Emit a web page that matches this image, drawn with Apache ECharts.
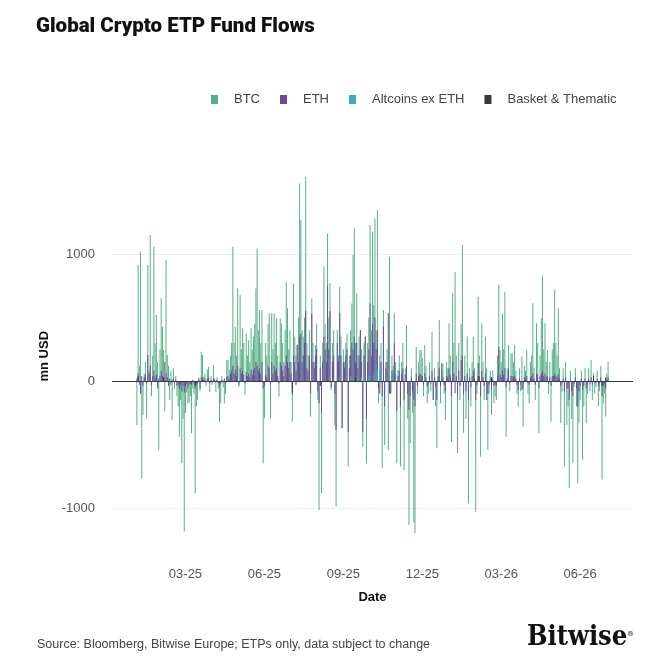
<!DOCTYPE html>
<html>
<head>
<meta charset="utf-8">
<script src="https://cdn.jsdelivr.net/npm/echarts@6/dist/echarts.min.js"></script>
<style>html,body{margin:0;padding:0;background:#fff}#c{width:671px;height:671px}</style>
</head>
<body>
<div id="c"></div>
<script>
// ---- data (daily flows, mn USD; one row per trading week, Mon..Fri) ----
const firstTradingDay = '2025-01-06';
const seriesNames = ['BTC', 'ETH', 'Altcoins ex ETH', 'Basket & Thematic'];
const quarterMonths = [3, 6, 9, 12];
const yTickLabels = [-1000, 0, 1000];

const btcWeeks = [
  [-346, 913, 120, 1018, -766], [-268, 60, 150, -294, 913], [80, 1149, -120, 200, 1057],
  [297, 519, 150, -543, 250], [651, 428, 244, -241, 952], [205, 120, -150, 80, -307],
  [100, -60, 40, -120, -200], [-438, -150, -648, -300, -1186], [-250, -90, -176, -176, -120],
  [-412, -60, -100, -884, -202], [-150, 30, -80, 231, 205], [34, 60, -40, 90, 113],
  [-84, 40, -30, 126, 20], [-84, 30, -60, -320, -176], [40, -50, -176, -100, 165],
  [165, 90, 200, 300, 1057], [300, 428, 200, 729, -45], [677, 250, 415, 300, -110],
  [375, 200, 320, 150, 415], [250, 350, 450, 729, 1044], [400, 559, 300, 559, -648],
  [-294, 300, 200, 450, 533], [-294, 533, 250, 533, 300], [493, 200, -123, 493, 454],
  [300, 150, 400, 782, 572], [250, 400, 150, -320, 769], [350, 200, 283, 500, 1556],
  [1267, 400, 350, 500, 1608], [297, 200, 400, -281, 651], [300, 150, 283, 450, -150],
  [-1015, 200, -884, 300, 900], [450, 300, 1162, 500, 769], [-71, 300, 400, -350, -989],
  [401, 200, 742, 350, -372], [250, 150, 300, 375, -674], [200, 400, 611, 992, 1202],
  [300, 690, 200, 350, 401], [250, -517, 300, 349, -648], [300, 500, 1228, 400, 1175],
  [600, 1280, 400, 1346, -176], [200, 300, -686, 559, -504], [150, 250, -543, 978, -97],
  [200, 120, 533, 150, -648], [87, 200, -674, 150, 297], [-700, 100, 441, -300, -1133],
  [-490, 100, -250, -1110, -1199], [270, -100, 150, 244, 244], [180, -120, 283, 120, -176],
  [-100, 150, -80, 388, -150], [100, -200, -530, 150, 480], [-176, 80, 139, -100, -307],
  [150, 100, 454, 200, -478], [690, 300, 860, 200, -569], [300, -150, 450, 1070, -407],
  [200, -300, 350, -963, 100], [-200, 150, 349, 100, -1029], [-100, 664, 200, -596, 454],
  [150, -150, 349, 100, -543], [-100, 80, -268, 87, -176], [-120, -150, 200, 755, 244],
  [150, 533, 250, 703, -438], [100, 283, -80, 218, 218], [150, 283, 80, -100, -202],
  [100, -80, 192, -360, 120], [80, 244, -100, -176, 150], [200, 612, 100, -150, 454],
  [300, -412, 200, 493, 829], [250, 454, 150, 244, -100], [150, -320, 250, 300, 716],
  [300, 200, 572, 100, -333], [-84, 100, -674, 150, -347], [-200, -845, 80, -300, -648],
  [-45, 100, -200, -805, -333], [-150, 80, -620, -200, 100], [-333, -100, 100, -80, 165],
  [-150, 60, -100, -45, 80], [-200, -80, 120, -775, -176], [-100, -280, 60, 150]
];

const ethWeeks = [
  [20, 60, -30, -100, 40], [-40, 30, 50, -20, 205], [60, 120, -30, 40, 80],
  [30, 50, -60, 20, 40], [80, 40, 20, 150, 60], [30, -40, 20, -30, 10],
  [20, -20, 10, -40, -30], [-60, -30, -80, -40, -90], [-40, -20, -60, -30, -20],
  [-30, 10, -20, -60, -30], [-20, 15, -60, 30, 20], [10, 20, -10, 20, 30],
  [-20, 10, -10, 20, 10], [-10, 10, -20, -40, -20], [10, -10, 20, -20, 30],
  [40, 20, 60, 80, 120], [60, 90, 40, 120, -30], [100, 60, 80, 50, -20],
  [70, 40, 60, 30, 90], [50, 80, 100, 150, 120], [80, 100, 60, 150, -60],
  [-40, 50, 30, 120, 100], [-30, 150, 60, 120, 80], [100, 40, -20, 150, 120],
  [80, 40, 120, 200, 150], [100, 150, 60, -80, 200], [150, 80, 283, 150, 350],
  [375, 150, 200, 300, 553], [100, 80, 200, -100, 530], [150, 100, 200, 250, -80],
  [-176, 100, -250, 150, 350], [250, 150, 750, 250, 550], [-50, 150, 200, -100, -386],
  [300, 150, 533, 200, -372], [150, 100, 200, 250, -400], [100, 200, 300, 250, 350],
  [150, 300, 100, 200, 401], [150, -400, 200, 349, -300], [150, 250, 611, 200, 450],
  [300, 500, 250, 400, -60], [-100, 150, -120, 428, -200], [100, 150, 533, -100, -100],
  [80, 60, 297, 50, -228], [40, 80, -200, 60, 100], [-150, 50, 120, -100, -228],
  [-120, 30, -80, -150, -200], [60, -40, 40, 60, 50], [40, -30, 60, 30, -40],
  [-30, 40, -20, 80, -150], [30, -50, -150, 40, 100], [-40, 139, 30, -30, -80],
  [40, 30, 100, 50, -120], [150, 60, -97, 40, -120], [80, -40, 165, 200, -100],
  [40, -80, 60, -150, 30], [-50, 40, 80, 20, -150], [-30, 139, 40, -120, 80],
  [30, -40, 60, -150, -100], [-30, 20, -71, 20, -40], [-30, -40, 40, 270, 50],
  [30, 80, 50, 100, -45], [20, 87, -20, 40, 40], [30, 40, 20, -30, -71],
  [20, -30, -71, -60, 30], [20, 40, -20, -30, 30], [40, 60, 20, -30, 60],
  [50, -60, 40, 60, 80], [40, 60, 30, 40, -20], [30, -40, 40, 40, 60],
  [40, 30, 50, 20, -40], [-20, 20, -80, 30, -60], [-60, -150, 20, -80, -120],
  [-20, 30, -60, -200, -80], [-40, 20, -71, -40, 20], [-60, -30, 20, -20, 30],
  [-30, 15, -20, -10, 20], [-40, -20, 30, -120, -40], [-20, -60, 15, 30]
];

// sparse series: trading-day number (0 = first trading day) and value
const altDays   = [167, 176, 182, 185, 191, 195, 197, 198, 200, 201, 211, 213, 221, 228, 237, 247, 252, 265, 291, 316, 357];
const altValues = [30, 40, 40, 30, 40, 60, 126, 80, 90, 60, 87, 50, 30, -30, 40, -25, 25, 30, 40, -20, 25];
const basketDays   = [1, 22, 48, 128, 131, 151, 180, 281, 292, 376, 383, 386];
const basketValues = [40, 30, -40, -100, -30, -40, 30, 40, 30, 40, -40, 30];

// ---- build ----
const padBefore = 20, padAfter = 20;
const btc = btcWeeks.flat();
const eth = ethWeeks.flat();
const nData = btc.length;

function addDays(d, n) { const r = new Date(d.getTime()); r.setUTCDate(r.getUTCDate() + n); return r; }
function isWeekday(d) { const w = d.getUTCDay(); return w !== 0 && w !== 6; }
let cur = new Date(firstTradingDay + 'T00:00:00Z');
let back = 0;
while (back < padBefore) { cur = addDays(cur, -1); if (isWeekday(cur)) back++; }
const dates = [];
while (dates.length < padBefore + nData + padAfter) {
  if (isWeekday(cur)) dates.push(cur.toISOString().slice(0, 10));
  cur = addDays(cur, 1);
}

function fullSeries(arr) {
  return dates.map((_, i) => { const k = i - padBefore; return (k >= 0 && k < arr.length) ? arr[k] : '-'; });
}
function sparseSeries(days, vals) {
  const a = new Array(nData).fill(0);
  days.forEach((d, j) => { a[d] = vals[j]; });
  return fullSeries(a);
}

const labelIdx = new Set();
dates.forEach((s, i) => {
  const m = +s.slice(5, 7);
  if (i > 0 && quarterMonths.includes(m) && dates[i - 1].slice(5, 7) !== s.slice(5, 7)) labelIdx.add(i);
});

const FONT = 'Liberation Sans';
const colors = ['#55b085', '#6a4c9b', '#3badbf', '#34393d'];

const barBase = { type: 'bar', barWidth: 1, barGap: '-100%', animation: false };

const chart = echarts.init(document.getElementById('c'), null, { renderer: 'canvas' });
chart.setOption({
  animation: false,
  color: colors,
  title: {
    text: 'Global Crypto ETP Fund Flows',
    left: 36, top: 16, padding: 0,
    textStyle: { fontSize: 20.5, fontWeight: 900, color: '#111', fontFamily: 'Roboto' }
  },
  legend: {
    data: seriesNames,
    left: 206, top: 88,
    icon: 'rect', itemWidth: 7, itemHeight: 9, itemGap: 20,
    textStyle: { color: '#444', fontSize: 13, fontFamily: FONT, padding: [0, 0, 0, 11] }
  },
  grid: { left: 112, right: 38, top: 158.75, height: 381, containLabel: false },
  xAxis: {
    type: 'category',
    data: dates,
    boundaryGap: true,
    axisLine: { show: false, onZero: false },
    axisTick: { show: false },
    splitLine: { show: false },
    axisLabel: {
      interval: (i) => labelIdx.has(i),
      formatter: (v) => v.slice(5, 7) + '-' + v.slice(2, 4),
      margin: 28, color: '#555', fontSize: 13, fontFamily: FONT
    },
    name: 'Date', nameLocation: 'middle', nameGap: 51,
    nameTextStyle: { fontWeight: 'bold', fontSize: 13, color: '#111', fontFamily: FONT }
  },
  yAxis: {
    type: 'value', min: -1250, max: 1750, interval: 250,
    axisLine: { show: false }, axisTick: { show: false }, splitLine: { show: false },
    axisLabel: {
      formatter: (v) => yTickLabels.includes(v) ? String(v) : '',
      margin: 17, color: '#555', fontSize: 13, fontFamily: FONT
    },
    name: 'mn USD', nameLocation: 'middle', nameGap: 60,
    nameTextStyle: { fontWeight: 'bold', fontSize: 13, color: '#111', fontFamily: FONT, padding: [0, 14, 0, 0] }
  },
  series: [
    Object.assign({}, barBase, {
      name: seriesNames[0], data: fullSeries(btc),
      markLine: {
        silent: true, symbol: 'none', z: 1, animation: false,
        label: { show: false },
        lineStyle: { color: '#eeeeee', width: 1, type: 'solid' },
        data: [{ yAxis: 1000 }, { yAxis: -1000 }]
      }
    }),
    Object.assign({}, barBase, { name: seriesNames[1], data: fullSeries(eth) }),
    Object.assign({}, barBase, { name: seriesNames[2], data: sparseSeries(altDays, altValues) }),
    Object.assign({}, barBase, {
      name: seriesNames[3], data: sparseSeries(basketDays, basketValues),
      markLine: {
        silent: true, symbol: 'none', z: 6, animation: false,
        label: { show: false },
        lineStyle: { color: '#3a3a3a', width: 1, type: 'solid' },
        data: [{ yAxis: 0 }]
      }
    })
  ],
  graphic: [
    { type: 'text', left: 37, top: 638, style: { text: 'Source: Bloomberg, Bitwise Europe; ETPs only, data subject to change', fill: '#444', fontSize: 12.5, fontFamily: 'Liberation Sans' } },
    { type: 'text', left: 527, top: 624, style: { text: 'Bitwise', fill: '#111', fontSize: 27, fontWeight: 'bold', fontStyle: 'normal', fontFamily: '"DejaVu Serif Condensed", "DejaVu Serif"' } },
    { type: 'text', left: 627, top: 631, style: { text: '®', fill: '#111', fontSize: 7, fontStyle: 'normal', fontFamily: 'DejaVu Serif' } }
  ]
});
</script>
</body>
</html>
